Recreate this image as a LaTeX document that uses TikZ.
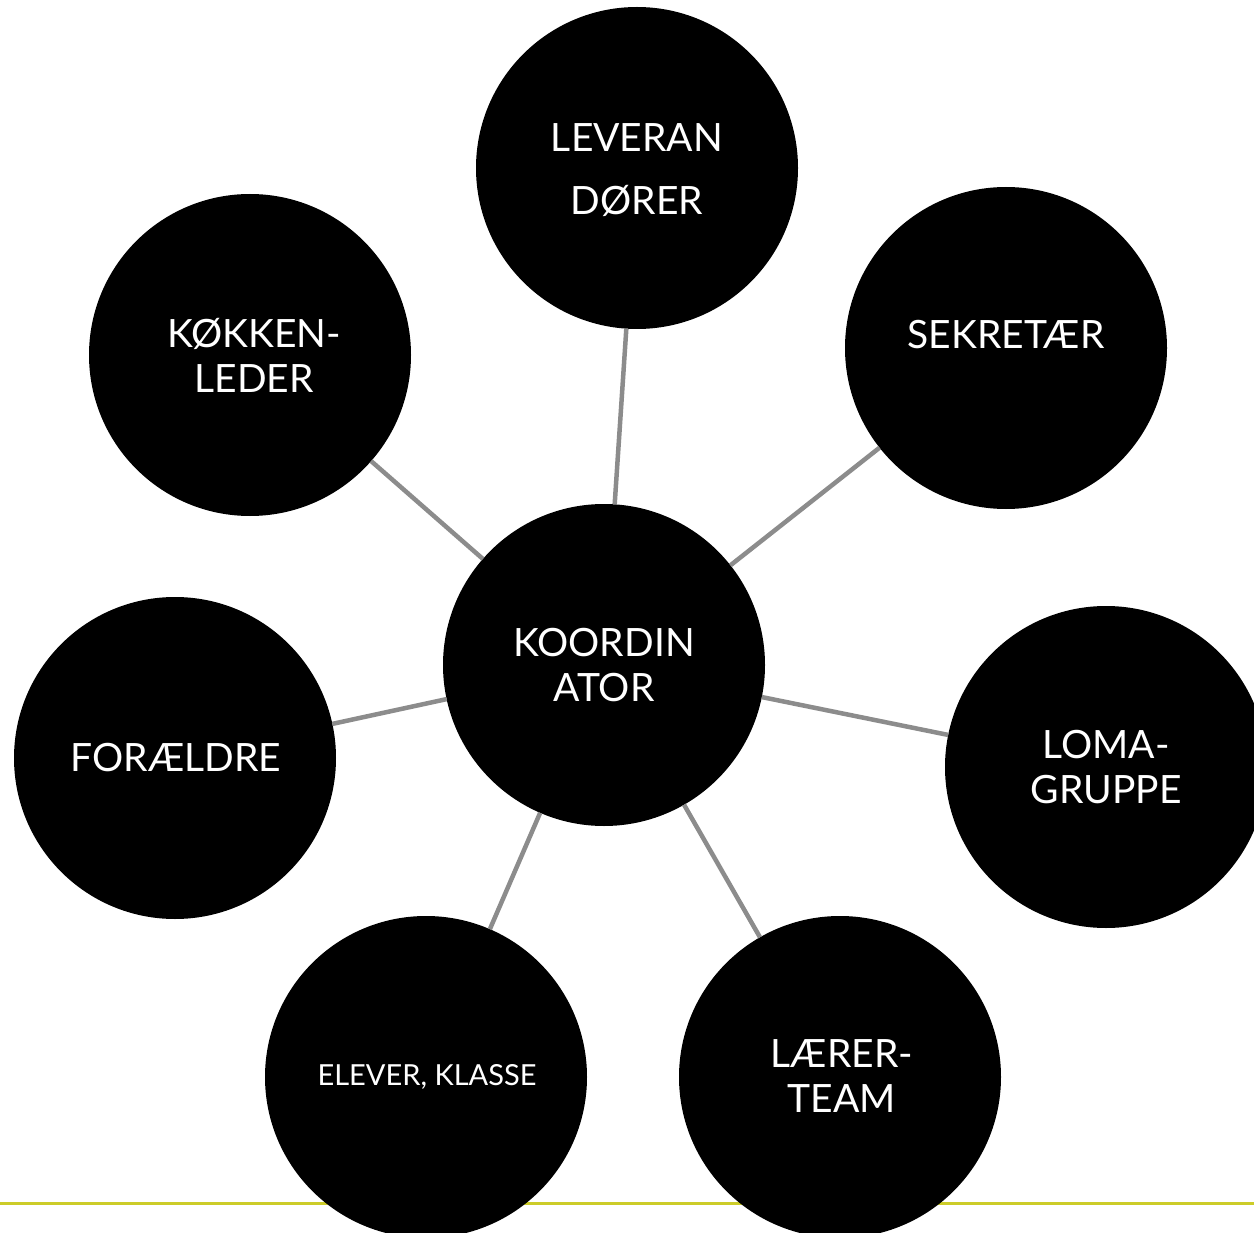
\documentclass[tikz,border=0pt]{standalone}
\usepackage{fontspec}
\setmainfont{Lato}
\definecolor{linkgray}{RGB}{140,140,140}
\definecolor{rulegreen}{RGB}{204,204,41}
\begin{document}
\begin{tikzpicture}[x=1pt,y=-1pt,
  bub/.style={circle,fill=black,minimum size=322pt,inner sep=0pt,outer sep=0pt},
  lbl/.style={text=white,align=center,inner sep=0pt,font=\fontsize{39}{45}\selectfont},
  small/.style={font=\fontsize{29}{34}\selectfont},
  link/.style={draw=linkgray,line width=4.5pt},
  rule/.style={draw=rulegreen,line width=3pt}]
\useasboundingbox (0,0) rectangle (1254,1233);
\clip (0,0) rectangle (1254,1233);
\fill[white] (0,0) rectangle (1254,1233);
% bottom rule
\coordinate (r1) at (0,1203);
\coordinate (r2) at (1254,1203);
\draw[rule] (r1) -- (r2);
% circles
\node[bub] (koord) at (604,665) {};
\node[bub] (lev) at (637,168) {};
\node[bub] (sek) at (1006,348) {};
\node[bub] (kok) at (250,355) {};
\node[bub] (for) at (175,758) {};
\node[bub] (loma) at (1106,767) {};
\node[bub] (elev) at (426,1077) {};
\node[bub] (laer) at (840,1077) {};
% connectors
\foreach \n in {lev,sek,kok,for,loma,elev,laer}
  \draw[link] (koord) -- (\n);
% labels
\node[lbl,font=\fontsize{39}{63}\selectfont] (lev-t) at (637,170.5) {LEVERAN\\DØRER};
\node[lbl] (sek-t) at (1006,335) {SEKRETÆR};
\node[lbl] (kok-t) at (254,355) {KØKKEN-\\LEDER};
\node[lbl] (koord-t) at (604,665.5) {KOORDIN\\ATOR};
\node[lbl] (for-t) at (176,758) {FORÆLDRE};
\node[lbl] (loma-t) at (1106,767.5) {LOMA-\\GRUPPE};
\node[lbl,small] (elev-t) at (427,1077) {ELEVER, KLASSE};
\node[lbl] (laer-t) at (842,1076.5) {LÆRER-\\TEAM};
\end{tikzpicture}
\end{document}
